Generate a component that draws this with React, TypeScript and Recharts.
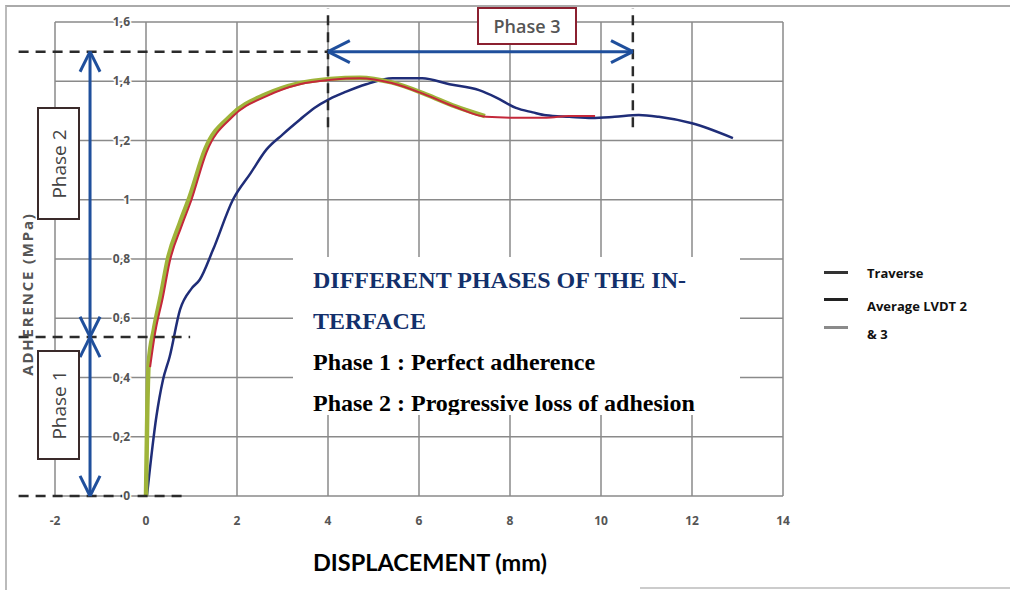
import React from 'react';
import {
  LineChart,
  Line,
  XAxis,
  YAxis,
  CartesianGrid,
  ReferenceLine
} from 'recharts';

// Traverse (crosshead) curve
const traverseX = [0.02, 0.23, 0.37, 0.52, 0.75, 1.0, 1.18, 1.47, 1.91, 2.3, 2.65, 3.0, 3.38, 3.7, 4.03, 4.4, 4.84, 5.42, 6.07, 6.67, 7.32, 7.7, 8.13, 8.5, 8.79, 9.3, 9.8, 10.3, 10.83, 11.27, 12.0, 12.9];
const traverseY = [0, 0.27, 0.39, 0.47, 0.63, 0.7, 0.73, 0.83, 1.0, 1.09, 1.17, 1.22, 1.27, 1.31, 1.34, 1.365, 1.39, 1.41, 1.41, 1.39, 1.37, 1.345, 1.31, 1.295, 1.285, 1.28, 1.276, 1.28, 1.286, 1.28, 1.258, 1.208];

// Average LVDT 2 & 3
const lvdtX = [0.09, 0.2, 0.37, 0.52, 0.78, 1.0, 1.33, 1.9, 2.65, 3.38, 4.07, 4.7, 5.4, 6.15, 6.8, 7.47, 8.1, 8.8, 9.3, 9.87];
const lvdtY = [0.435, 0.55, 0.67, 0.79, 0.91, 1.0, 1.16, 1.28, 1.35, 1.39, 1.405, 1.41, 1.394, 1.354, 1.313, 1.28, 1.277, 1.277, 1.283, 1.283];

// third (green) curve
const greenX = [0, 0.03, 0.06, 0.17, 0.33, 0.48, 0.74, 0.96, 1.3, 1.87, 2.62, 3.35, 4.05, 4.7, 5.4, 6.15, 6.8, 7.45];
const greenY = [0, 0.3, 0.45, 0.56, 0.68, 0.8, 0.92, 1.01, 1.17, 1.285, 1.355, 1.393, 1.408, 1.412, 1.396, 1.356, 1.315, 1.282];

const xTicks = [-2, 0, 2, 4, 6, 8, 10, 12, 14];
const yTicks = [0, 0.2, 0.4, 0.6, 0.8, 1, 1.2, 1.4, 1.6];

// phase limits
const phaseX = [4, 10.7];
const phaseY = [0, 0.537, 1.5];
const arrowX = -1.23;
const dashStart = -2.8;

const toPoints = (xs: number[], ys: number[]) => xs.map((x, i) => ({ x, y: ys[i] }));

const traverse = toPoints(traverseX, traverseY);
const lvdt = toPoints(lvdtX, lvdtY);
const green = toPoints(greenX, greenY);

const fmt = (v: number) => String(Math.round(v * 10) / 10).replace('.', ',');

const renderYTick = (props: any) => {
  const { x, y, payload } = props;
  return (
    <text x={x + 83} y={y} dy={4} textAnchor="end" fontSize={12} fontWeight="bold"
      fill="#555" fontFamily="'Open Sans', sans-serif" stroke="#fff" strokeWidth={3} paintOrder="stroke">
      {fmt(payload.value)}
    </text>
  );
};

const dash = { stroke: '#2b2b2b', strokeWidth: 2.5, strokeDasharray: '10 7' };
const arrow = { stroke: '#1f4f9c', strokeWidth: 3 };

const seg = (x1: number, y1: number, x2: number, y2: number) => [{ x: x1, y: y1 }, { x: x2, y: y2 }];

// arrow heads (chevrons) in data units
const hx = 0.48, hy = 0.037; // horizontal arrow
const vx = 0.22, vy = 0.068; // vertical arrow
const heads = [
  seg(phaseX[0], phaseY[2], phaseX[0] + hx, phaseY[2] + hy),
  seg(phaseX[0], phaseY[2], phaseX[0] + hx, phaseY[2] - hy),
  seg(phaseX[1], phaseY[2], phaseX[1] - hx, phaseY[2] + hy),
  seg(phaseX[1], phaseY[2], phaseX[1] - hx, phaseY[2] - hy),
  seg(arrowX, phaseY[2], arrowX - vx, phaseY[2] - vy),
  seg(arrowX, phaseY[2], arrowX + vx, phaseY[2] - vy),
  seg(arrowX, phaseY[1], arrowX - vx, phaseY[1] + vy),
  seg(arrowX, phaseY[1], arrowX + vx, phaseY[1] + vy),
  seg(arrowX, phaseY[1], arrowX - vx, phaseY[1] - vy),
  seg(arrowX, phaseY[1], arrowX + vx, phaseY[1] - vy),
  seg(arrowX, phaseY[0], arrowX - vx, phaseY[0] + vy),
  seg(arrowX, phaseY[0], arrowX + vx, phaseY[0] + vy),
];

const boxStyle: React.CSSProperties = {
  position: 'absolute',
  background: '#fff',
  boxSizing: 'border-box',
  display: 'flex',
  alignItems: 'center',
  justifyContent: 'center',
  fontFamily: "'Open Sans', sans-serif",
  color: '#444',
};

const legendItems = [
  { label: 'Traverse', color: '#333', top: 265 },
  { label: 'Average LVDT 2', color: '#222', top: 292 },
  { label: '& 3', color: '#8a8a8a', top: 320 },
];

const App: React.FC = () => {
  return (
    <div style={{ position: 'absolute', left: 0, top: 0, width: 1010, height: 590, background: '#fff', overflow: 'hidden' }}>
      {/* frame */}
      <div style={{ position: 'absolute', left: 5, top: 5, width: 1010, height: 590, borderTop: '2px solid #aaa', borderLeft: '2px solid #bbb' }} />
      <div style={{ position: 'absolute', left: 640, top: 587, width: 370, height: 0, borderTop: '2px solid #ccc' }} />

      <LineChart
        width={1010}
        height={590}
        margin={{ top: 22, right: 227, left: 54, bottom: 64 }}
        style={{ position: 'absolute', left: 0, top: 0 }}
      >
        <CartesianGrid stroke="#8a8a8a" strokeWidth={1.5} />
        <XAxis
          type="number"
          dataKey="x"
          domain={[-2, 14]}
          ticks={xTicks}
          allowDataOverflow
          axisLine={false}
          tickLine={false}
          height={30}
          tickMargin={14}
          tick={{ fill: '#555', fontSize: 12, fontWeight: 'bold', fontFamily: "'Open Sans', sans-serif" }}
        />
        <YAxis
          type="number"
          dataKey="y"
          domain={[0, 1.6]}
          ticks={yTicks}
          allowDataOverflow
          width={1}
          axisLine={false}
          tickLine={false}
          tick={renderYTick}
        />
        <Line data={traverse} dataKey="y" type="monotone" stroke="#1f2d78" strokeWidth={2.5} dot={false} isAnimationActive={false} />
        <Line data={green} dataKey="y" type="monotone" stroke="#9fb43a" strokeWidth={4.5} dot={false} isAnimationActive={false} />
        <Line data={lvdt} dataKey="y" type="monotone" stroke="#c4283a" strokeWidth={2} dot={false} isAnimationActive={false} />

        {/* dashed phase limits */}
        <ReferenceLine segment={seg(dashStart, phaseY[2], phaseX[0], phaseY[2])} ifOverflow="visible" {...dash} />
        <ReferenceLine segment={seg(dashStart, phaseY[1], 0.97, phaseY[1])} ifOverflow="visible" {...dash} />
        <ReferenceLine segment={seg(dashStart, phaseY[0], 0.8, phaseY[0])} ifOverflow="visible" {...dash} />
        <ReferenceLine segment={seg(phaseX[0], 1.245, phaseX[0], 1.647)} ifOverflow="visible" {...dash} />
        <ReferenceLine segment={seg(phaseX[1], 1.245, phaseX[1], 1.647)} ifOverflow="visible" {...dash} />

        {/* arrows */}
        <ReferenceLine segment={seg(phaseX[0], phaseY[2], phaseX[1], phaseY[2])} ifOverflow="visible" {...arrow} />
        <ReferenceLine segment={seg(arrowX, phaseY[0], arrowX, phaseY[2])} ifOverflow="visible" {...arrow} />
        {heads.map((h, i) => (
          <ReferenceLine key={`head-${i}`} segment={h} ifOverflow="visible" {...arrow} />
        ))}
      </LineChart>

      {/* y axis title */}
      <div style={{
        position: 'absolute', left: 27, top: 294, transform: 'translate(-50%, -50%) rotate(-90deg)',
        whiteSpace: 'nowrap', fontSize: 15, letterSpacing: 1.8, fontWeight: 'bold', color: '#555', fontFamily: "'Open Sans', sans-serif"
      }}>
        ADHERENCE (MPa)
      </div>

      {/* x axis title */}
      <div style={{
        position: 'absolute', left: 430, top: 562, transform: 'translate(-50%, -50%)',
        whiteSpace: 'nowrap', fontSize: 23.5, fontWeight: 'bold', color: '#000', fontFamily: 'Lato, sans-serif'
      }}>
        DISPLACEMENT (mm)
      </div>

      {/* phase labels */}
      <div style={{ ...boxStyle, left: 37, top: 107, width: 43, height: 113, border: '2px solid #3a2a2a' }}>
        <span style={{ transform: 'rotate(-90deg)', whiteSpace: 'nowrap', fontSize: 19 }}>Phase 2</span>
      </div>
      <div style={{ ...boxStyle, left: 37, top: 350, width: 43, height: 110, border: '2px solid #3a2a2a' }}>
        <span style={{ transform: 'rotate(-90deg)', whiteSpace: 'nowrap', fontSize: 19 }}>Phase 1</span>
      </div>
      <div style={{ ...boxStyle, left: 477, top: 7, width: 100, height: 38, border: '2px solid #8b2030', color: '#555' }}>
        <span style={{ fontSize: 18, fontWeight: 600 }}>Phase 3</span>
      </div>

      {/* text box */}
      <div style={{
        position: 'absolute', left: 293, top: 257, width: 447, height: 158, background: '#fff', overflow: 'hidden',
        boxSizing: 'border-box', padding: '3px 0 0 20px', fontFamily: "'Liberation Serif', 'Times New Roman', serif",
        fontWeight: 'bold', fontSize: 24, lineHeight: '41px', whiteSpace: 'nowrap'
      }}>
        <div style={{ color: '#13306b' }}>DIFFERENT PHASES OF THE IN-</div>
        <div style={{ color: '#13306b' }}>TERFACE</div>
        <div style={{ color: '#000' }}>Phase 1 : Perfect adherence</div>
        <div style={{ color: '#000' }}>Phase 2 : Progressive loss of adhesion</div>
      </div>

      {/* legend */}
      <div style={{ position: 'absolute', left: 848, top: 250, width: 160, height: 100, background: '#fff' }} />
      {legendItems.map((item) => (
        <React.Fragment key={item.label}>
          <div style={{ position: 'absolute', left: 824, top: item.top + 6, width: 24, height: 3, background: item.color }} />
          <div style={{
            position: 'absolute', left: 867, top: item.top + (item.label === 'Traverse' ? 0 : 6), fontSize: 13, fontWeight: 'bold',
            fontFamily: "'Open Sans', sans-serif", color: '#111', whiteSpace: 'nowrap', lineHeight: '16px'
          }}>
            {item.label}
          </div>
        </React.Fragment>
      ))}
    </div>
  );
};

export default App;
